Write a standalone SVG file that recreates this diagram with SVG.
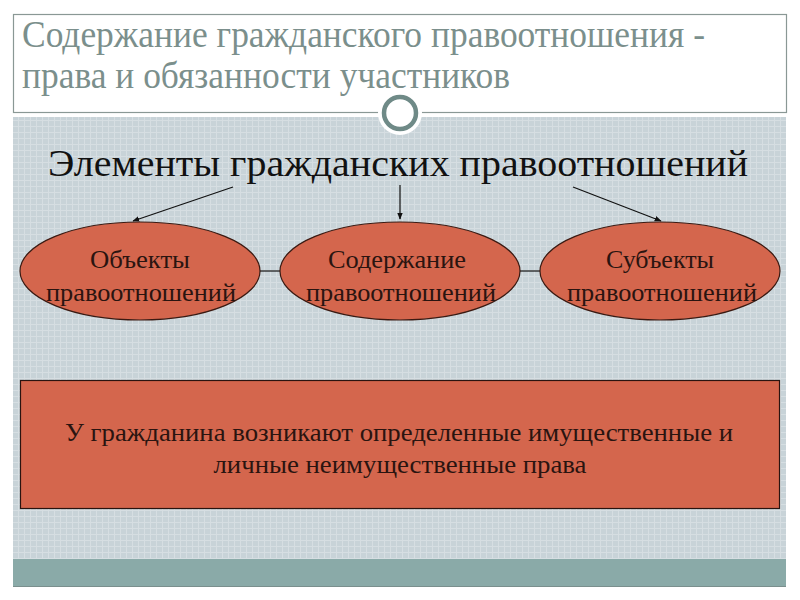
<svg xmlns="http://www.w3.org/2000/svg" width="800" height="600" viewBox="0 0 800 600">
<defs>
<style>
.ttl{font-family:"Liberation Serif","DejaVu Serif",serif;font-size:38px;fill:#7b8f8c}
.hd{font-family:"Liberation Serif","DejaVu Serif",serif;font-size:38px;fill:#111}
.nt{font-family:"Liberation Serif","DejaVu Serif",serif;font-size:25px;fill:#2a1410;text-anchor:middle}
.bt{font-family:"Liberation Serif","DejaVu Serif",serif;font-size:25px;fill:#2a1410;text-anchor:middle}
.ell{fill:#d4664d;stroke:#3a1a12;stroke-width:1.2}
.con{stroke:#111;stroke-width:1.2;fill:none}
</style>
<marker id="ah" viewBox="0 0 10 10" refX="9" refY="5" markerWidth="7" markerHeight="7" orient="auto" markerUnits="userSpaceOnUse">
<path d="M0,1 L10,5 L0,9 Z" fill="#111"/>
</marker>
<pattern id="tex" width="6" height="6" patternUnits="userSpaceOnUse">
<rect width="6" height="6" fill="#c8d3d8"/>
<path d="M0,0.5 H6 M0.5,0 V6" stroke="#d6dee2" stroke-width="1"/>
</pattern>
</defs>
<rect width="800" height="600" fill="#ffffff"/>
<g id="frame">
<rect x="13.5" y="14.5" width="773" height="98" fill="#ffffff" stroke="#8a9895" stroke-width="1.2"/>
<rect x="13" y="117" width="773" height="442" fill="url(#tex)"/>
<rect x="13" y="559" width="773" height="27" fill="#8aaaa8"/>
<line x1="13" y1="586.5" x2="786" y2="586.5" stroke="#7a8f8d" stroke-width="1"/>
</g>
<g id="title">
<text class="ttl" x="22" y="47" textLength="683" lengthAdjust="spacingAndGlyphs">Содержание гражданского правоотношения -</text>
<text class="ttl" x="22" y="88" textLength="488" lengthAdjust="spacingAndGlyphs">права и обязанности участников</text>
</g>
<g id="ornament">
<circle cx="400" cy="113" r="22" fill="#ffffff"/>
<circle cx="400" cy="113" r="16" fill="none" stroke="#6f8a87" stroke-width="4.5"/>
</g>
<g id="heading">
<text class="hd" x="48" y="176" textLength="700" lengthAdjust="spacingAndGlyphs">Элементы гражданских правоотношений</text>
</g>
<g id="connectors">
<line class="con" x1="233" y1="187" x2="133" y2="221" marker-end="url(#ah)"/>
<line class="con" x1="400" y1="185" x2="400" y2="219" marker-end="url(#ah)"/>
<line class="con" x1="573" y1="187" x2="661" y2="221" marker-end="url(#ah)"/>
<line class="con" x1="260" y1="271" x2="280" y2="271"/>
<line class="con" x1="520" y1="271" x2="540" y2="271"/>
</g>
<g id="node-objects">
<ellipse class="ell" cx="140" cy="271" rx="120" ry="49"/>
<text class="nt" x="140" y="268" textLength="100" lengthAdjust="spacingAndGlyphs">Объекты</text>
<text class="nt" x="141" y="301" textLength="190" lengthAdjust="spacingAndGlyphs">правоотношений</text>
</g>
<g id="node-content">
<ellipse class="ell" cx="400" cy="271" rx="120" ry="49"/>
<text class="nt" x="397" y="268" textLength="138" lengthAdjust="spacingAndGlyphs">Содержание</text>
<text class="nt" x="401" y="301" textLength="190" lengthAdjust="spacingAndGlyphs">правоотношений</text>
</g>
<g id="node-subjects">
<ellipse class="ell" cx="660" cy="271" rx="120" ry="49"/>
<text class="nt" x="660" y="268" textLength="108" lengthAdjust="spacingAndGlyphs">Субъекты</text>
<text class="nt" x="662" y="301" textLength="190" lengthAdjust="spacingAndGlyphs">правоотношений</text>
</g>
<g id="box">
<rect x="20.5" y="380.5" width="759" height="128" fill="#d4664d" stroke="#2a1410" stroke-width="1.2"/>
<text class="bt" x="399" y="441" textLength="668" lengthAdjust="spacingAndGlyphs">У гражданина возникают определенные имущественные и</text>
<text class="bt" x="400" y="473" textLength="373" lengthAdjust="spacingAndGlyphs">личные неимущественные права</text>
</g>
</svg>
